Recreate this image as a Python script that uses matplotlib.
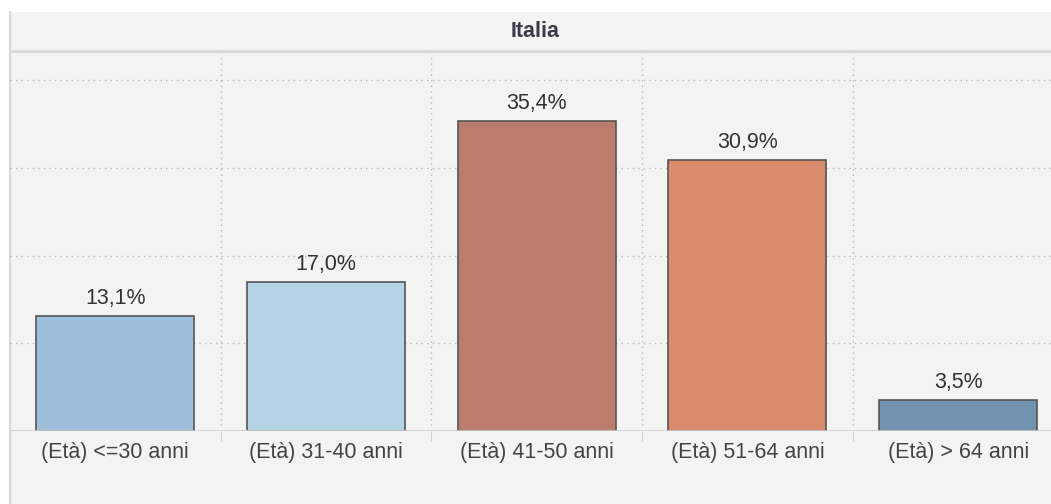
import matplotlib
matplotlib.use("Agg")
import matplotlib.pyplot as plt
from matplotlib.patches import Rectangle
from matplotlib.lines import Line2D

categories = ["(Età) <=30 anni", "(Età) 31-40 anni", "(Età) 41-50 anni",
              "(Età) 51-64 anni", "(Età) > 64 anni"]
values = [13.1, 17.0, 35.4, 30.9, 3.5]
labels = ["13,1%", "17,0%", "35,4%", "30,9%", "3,5%"]
colors = ["#9dbfdb", "#b5d4e6", "#bb7d6b", "#d98b6c", "#7293b0"]
panel_title = "Italia"

plt.rcParams['font.family'] = ['Liberation Sans', 'DejaVu Sans']

W, H = 1051, 504
fig = plt.figure(figsize=(W / 100, H / 100), dpi=100, facecolor="white")

def fx(px):
    return px / W

def fy(py):
    return 1 - py / H

FS = 15.5

# panel background
fig.patches.append(Rectangle((fx(10), 0), 1 - fx(10), fy(12), transform=fig.transFigure,
                             facecolor="#f3f3f3", edgecolor="none", zorder=-10))
# left border
fig.lines.append(Line2D([fx(10), fx(10)], [0, fy(12)], transform=fig.transFigure,
                        color="#d6d6d6", lw=1.5, zorder=-5))
# header separator
fig.lines.append(Line2D([fx(10), 1], [fy(51), fy(51)], transform=fig.transFigure,
                        color="#d8d8d8", lw=2, zorder=-5))
fig.text(fx(535), fy(37), panel_title, ha="center", va="baseline", fontsize=FS,
         fontweight="bold", color="#3a3a4a")

baseline = 431
top = 53
ax = fig.add_axes([fx(10), fy(baseline), 1 - fx(10), (baseline - top) / H])
ax.set_facecolor("none")
ymax = 43.1
ax.set_ylim(0, ymax)
catw = 210.7
ax.set_xlim(-0.5, -0.5 + (W - 10) / catw)

x = list(range(len(categories)))
ax.bar(x, values, width=0.75, color=colors, edgecolor="#555555", linewidth=1.2, zorder=2)

for xi, v, lab in zip(x, values, labels):
    ax.annotate(lab, (xi, v), xytext=(0, 12), textcoords="offset pixels",
                ha="center", va="baseline", fontsize=FS, color="#333333")

# grid
for gy in [10, 20, 30, 40]:
    ax.axhline(gy, color="#b5b5b5", lw=1, ls=(0, (1, 3)), zorder=1)
for gx in [0.5, 1.5, 2.5, 3.5]:
    ax.axvline(gx, color="#b5b5b5", lw=1, ls=(0, (1, 3)), zorder=1)

for s in ax.spines.values():
    s.set_visible(False)
ax.axhline(0, color="#d0d0d0", lw=1.2, zorder=3)

ax.set_yticks([])
ax.set_xticks([0.5, 1.5, 2.5, 3.5], minor=False)
ax.tick_params(axis="x", length=7, color="#d0d0d0", labelbottom=False)
for xi, c in zip(x, categories):
    ax.annotate(c, (xi, 0), xytext=(0, -27), textcoords="offset pixels",
                ha="center", va="baseline", fontsize=FS, color="#444444")

fig.savefig("out.png", dpi=100, facecolor="white")
